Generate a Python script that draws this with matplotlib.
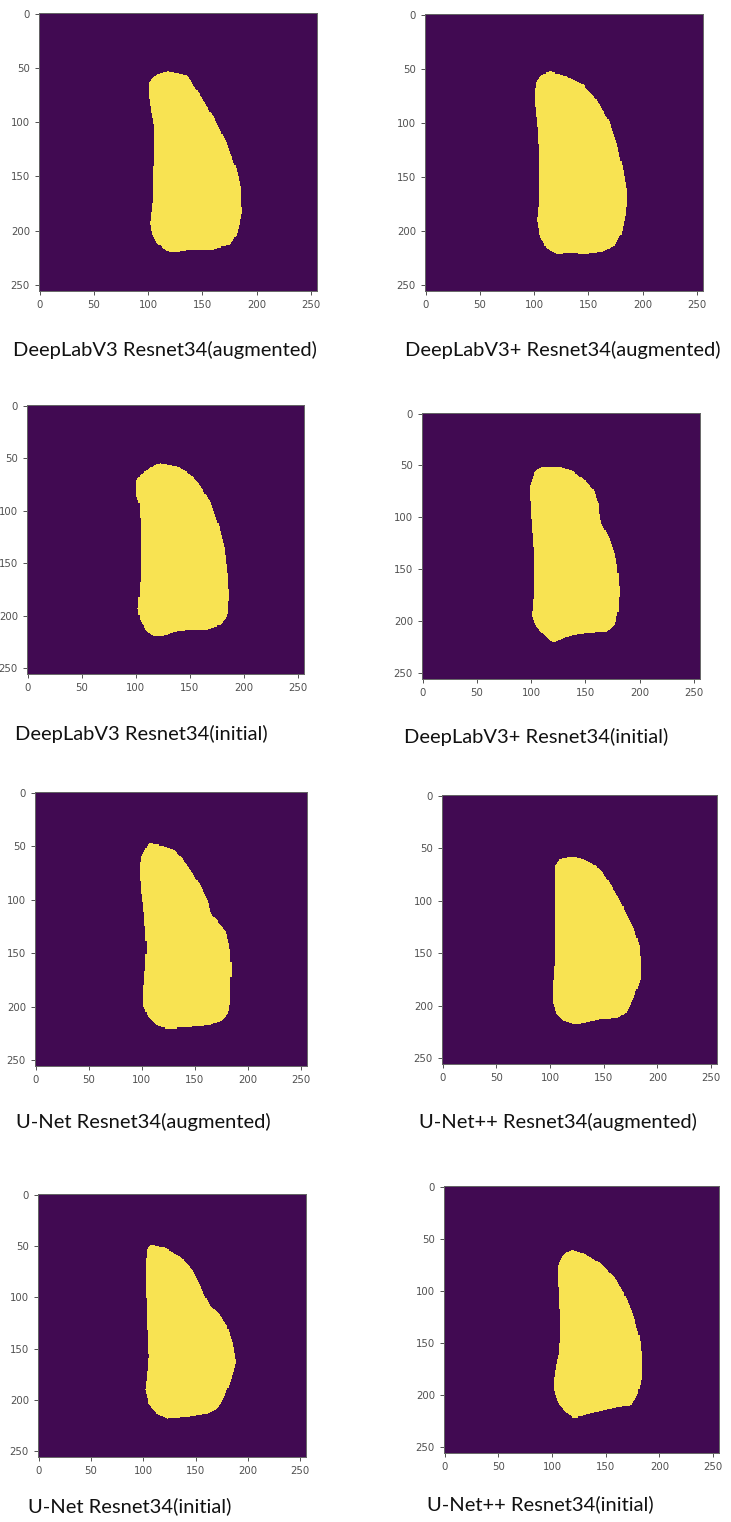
import numpy as np
import matplotlib
matplotlib.use("Agg")
import matplotlib.pyplot as plt
from matplotlib.path import Path
from matplotlib.colors import ListedColormap

# Predicted lesion outlines (column, row) on a 256x256 grid
deeplabv3_aug = [(118.7, 52.8), (135.6, 56.7), (147.9, 75.2), (160, 95), (172.4, 119.6),
                 (181.6, 144), (185.3, 159.5), (186.2, 184), (182.2, 202.5), (175.5, 213),
                 (160, 217), (135.6, 217.8), (124.8, 220), (117, 218.4), (108, 211.7),
                 (103.4, 202.5), (101.8, 193), (104.3, 171.8), (105, 141), (105.5, 104.3),
                 (102.5, 89), (100.3, 73.6), (100.3, 64.4), (105, 58.3), (111, 54.6)]

deeplabv3p_aug = [(114.5, 52.5), (130, 57), (145, 64.8), (157.5, 78.7), (168.3, 97),
                  (176, 118.8), (182, 143.5), (185.8, 165), (184.6, 183.6), (180.6, 202),
                  (174.5, 213), (163.7, 219), (148.3, 221.3), (133, 220.7), (120.6, 221.3),
                  (111.4, 216), (105.2, 205), (102.8, 189.8), (104.6, 171.3), (104.6, 140.4),
                  (103.7, 109.5), (101.2, 88), (100, 72.5), (102.2, 61.7), (106.8, 55.6)]

deeplabv3_init = [(122.9, 55.8), (138.4, 58.9), (150.8, 66.2), (160, 77.3), (169.3, 93.2),
                  (177, 115.3), (182.4, 137.5), (185.4, 162.9), (186.4, 181.9), (184.8, 200.9),
                  (178.6, 208.8), (166.3, 213), (153.9, 213.6), (141.5, 214.2), (132.2, 216.7),
                  (124.5, 219.9), (116.7, 219.9), (109, 213.6), (103.7, 204), (101.9, 193),
                  (103.7, 175.5), (105, 143.9), (104.3, 112.2), (103, 93.2), (100.6, 86.8),
                  (100, 72.6), (104.3, 66.2), (112, 61.5), (116.7, 57.7)]

deeplabv3p_init = [(111.3, 52.4), (126.7, 52.4), (139, 56.6), (149.7, 64.6), (157.4, 74.2),
                   (162, 87), (163.5, 102.9), (171.2, 118.9), (177.3, 134.9), (179.8, 150.9),
                   (181.3, 170), (180.4, 189.3), (177.3, 203.6), (169.6, 210), (151.2, 211.6),
                   (135.9, 214.2), (123.6, 219.6), (120.6, 221.2), (112.9, 214.8), (105.2, 205.9),
                   (100.6, 195.7), (101.5, 182.9), (103, 170), (102.8, 138), (100.2, 106),
                   (98.8, 80.6), (99.0, 69.4), (102.8, 58.2), (106.7, 54.3)]

unet_aug = [(106.6, 47.2), (120, 49.7), (131, 53.4), (142, 66.8), (154.5, 85.4),
            (162.4, 100.9), (165.5, 113.4), (173.4, 122.7), (179.6, 130.4), (182.8, 144.4),
            (184.4, 163), (183.4, 187.9), (182.8, 203.4), (176.5, 212.7), (164, 217.4),
            (142, 219.6), (123.2, 220.5), (113.8, 217.4), (106, 209.6), (101.9, 200.3),
            (101.3, 187.9), (102.8, 169.3), (104.4, 144.4), (102.2, 113.4), (99.7, 91.6),
            (98.1, 69.9), (99.7, 60.6), (103.4, 52.8)]

unetpp_aug = [(124.2, 58.4), (135.1, 62.5), (147.5, 70.4), (155.3, 83.1), (163.0, 95.8),
              (170.8, 111.7), (178.6, 127.5), (183.2, 143.4), (184.8, 162.4), (184.2, 175.1),
              (178.6, 190.9), (172.4, 205.3), (163, 211.6), (147.5, 212.6), (135.1, 215.7),
              (124.2, 218), (113.4, 214.8), (105.6, 206.9), (102.5, 197.3), (102.5, 181.5),
              (104, 162.4), (104.7, 143.4), (104.7, 111.7), (104.7, 80), (104.7, 67.3),
              (108.7, 60.9), (116.5, 58.7)]

unet_init = [(107.4, 49.2), (121.2, 52.1), (135.6, 60.2), (146.8, 73.2), (154.8, 89.5),
             (159.6, 99.3), (164.4, 109), (172.4, 115.6), (180.4, 128.6), (185.3, 144.9),
             (188.5, 162.8), (183.7, 180.7), (177.2, 198.6), (170.8, 208.3), (161.2, 213.2),
             (142, 216.5), (122.8, 218.1), (113.1, 213.2), (105.1, 203.5), (101.9, 190.4),
             (103.5, 177.4), (105.1, 157.9), (103.5, 118.8), (102.6, 86.3), (102.9, 63.5),
             (103.5, 53.7)]

unetpp_init = [(118.7, 60.3), (129.7, 64.1), (145.4, 73.7), (158, 86.5), (167.4, 102.6),
               (175.3, 121.8), (181.5, 144.2), (183.7, 163.5), (183.7, 182.7), (180, 198.7),
               (173.7, 209.9), (161.1, 211.5), (142.3, 216.3), (129.7, 219.6), (120.3, 222.1),
               (114, 217.9), (106.2, 208.3), (101.5, 195.5), (102.1, 179.5), (106.2, 160.3),
               (107.8, 141), (106.8, 112.2), (105.5, 86.5), (105.2, 76.9), (109.3, 67.3),
               (114, 62.5)]

captions = ["DeepLabV3 Resnet34(augmented)", "DeepLabV3+ Resnet34(augmented)",
            "DeepLabV3 Resnet34(initial)", "DeepLabV3+ Resnet34(initial)",
            "U-Net Resnet34(augmented)", "U-Net++ Resnet34(augmented)",
            "U-Net Resnet34(initial)", "U-Net++ Resnet34(initial)"]
outlines = [deeplabv3_aug, deeplabv3p_aug, deeplabv3_init, deeplabv3p_init,
            unet_aug, unetpp_aug, unet_init, unetpp_init]
ticks = [0, 50, 100, 150, 200, 250]
size = 256

# Panel boxes in pixels: left, top, right, bottom; caption left x and baseline y
boxes = [(39, 13, 317, 291), (425, 14, 703, 291),
         (27, 405, 304, 674), (422, 413, 700, 679),
         (35, 792, 307, 1066), (442, 795, 717, 1064),
         (38, 1194, 306, 1457), (444, 1186, 719, 1453)]
cap_pos = [(13, 356), (405, 356), (15, 740), (404, 743),
           (16, 1128), (419, 1128), (28, 1512), (427, 1510)]

# Two-level mask colours (background / lesion)
mask_cmap = ListedColormap(["#410a52", "#f8e352"])

W, H = 731, 1522
fig = plt.figure(figsize=(W / 100, H / 100), dpi=100)
fig.patch.set_facecolor("white")

rows, cols = np.mgrid[0:size, 0:size]
grid_pts = np.column_stack([cols.ravel(), rows.ravel()])

for outline, (l, t, r, b), cap, (cx, cy) in zip(outlines, boxes, captions, cap_pos):
    mask = Path(outline).contains_points(grid_pts).reshape(size, size).astype(float)
    ax = fig.add_axes([l / W, 1 - b / H, (r - l) / W, (b - t) / H])
    ax.imshow(mask, cmap=mask_cmap, vmin=0, vmax=1, interpolation="nearest", aspect="auto")
    ax.set_xticks(ticks)
    ax.set_yticks(ticks)
    ax.tick_params(labelsize=7.3, labelcolor="#505050", color="#505050", length=3, width=0.7)
    for sp in ax.spines.values():
        sp.set_color("#666666")
        sp.set_linewidth(0.7)
    fig.text(cx / W, 1 - cy / H, cap, family="Lato", fontsize=14.5,
             color="#111111", ha="left", va="baseline")

fig.savefig("out.png", dpi=100, facecolor="white")
